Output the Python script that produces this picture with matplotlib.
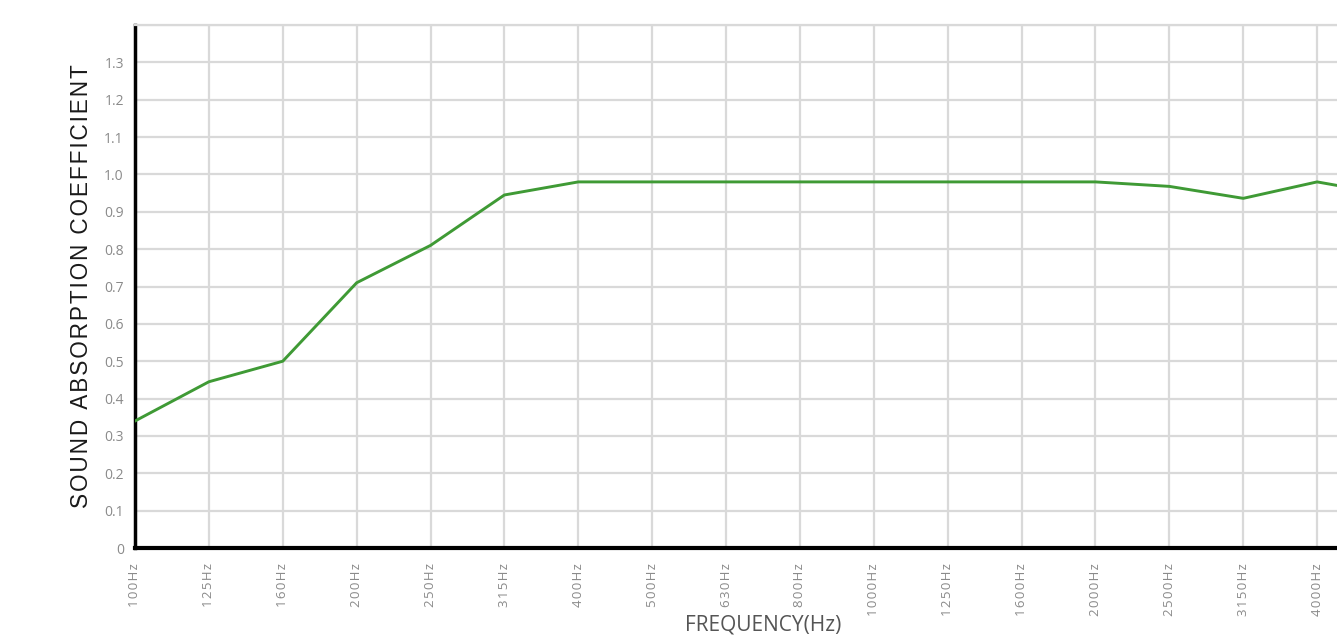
import matplotlib
matplotlib.use("Agg")
import matplotlib.pyplot as plt
import numpy as np

# 1/3 octave bands
bands = ["100Hz", "125Hz", "160Hz", "200Hz", "250Hz", "315Hz", "400Hz", "500Hz",
         "630Hz", "800Hz", "1000Hz", "1250Hz", "1600Hz", "2000Hz", "2500Hz",
         "3150Hz", "4000Hz", "5000Hz"]
alpha = [0.34, 0.445, 0.50, 0.71, 0.81, 0.945, 0.98, 0.98, 0.98, 0.98, 0.98,
         0.98, 0.98, 0.98, 0.968, 0.936, 0.98, 0.945]
yticks = [0, 0.1, 0.2, 0.3, 0.4, 0.5, 0.6, 0.7, 0.8, 0.9, 1.0, 1.1, 1.2, 1.3]
ytick_labels = ["0", "0.1", "0.2", "0.3", "0.4", "0.5", "0.6", "0.7", "0.8",
                "0.9", "1.0", "1.1", "1.2", "1.3"]

hs = "\u200a"  # hair space, for the spaced out lettering


def spaced(s, n=1):
    return (hs * n).join(s)


fig = plt.figure(figsize=(13.37, 6.37), dpi=100)
# axes runs past the right edge of the picture, like the original
ax = fig.add_axes([135 / 1337, 89 / 637, 1256 / 1337, 523 / 637])

x = np.arange(len(bands))
ax.plot(x, alpha, color="#3f9a35", lw=2.1, zorder=3)

ax.set_xlim(0, len(bands) - 1)
ax.set_ylim(0, 1.4)

# last band lies off the picture, so only the visible ones get a label
ax.set_xticks(x[:-1])
ax.set_xticklabels([spaced(b) for b in bands[:-1]], rotation=90, va="top",
                   fontsize=9.5, color="#8a8a8a", family=["Open Sans", "DejaVu Sans"])
ax.set_yticks(np.arange(0.1, 1.41, 0.1), minor=True)
ax.set_yticks(yticks)
ax.set_yticklabels(ytick_labels, fontsize=10, color="#8a8a8a", family="Open Sans")
ax.tick_params(axis="both", which="both", length=0)
ax.tick_params(axis="x", pad=11)
ax.tick_params(axis="y", pad=8)

ax.grid(True, which="both", color="#d9d9d9", lw=1.6, zorder=0)
ax.set_axisbelow(True)

ax.spines["right"].set_visible(False)
ax.spines["top"].set_color("#d9d9d9")
ax.spines["top"].set_linewidth(1.6)
ax.spines["left"].set_color("black")
ax.spines["left"].set_linewidth(2.5)
ax.spines["bottom"].set_color("black")
ax.spines["bottom"].set_linewidth(3)

ax.set_ylabel(spaced("SOUND ABSORPTION COEFFICIENT", 1), fontsize=16.3,
              family=["Liberation Sans", "DejaVu Sans"], color="#1a1a1a", labelpad=8)
fig.text(763 / 1337, 2 / 637, "FREQUENCY(Hz)", fontsize=15, color="#555555",
         family="Open Sans", ha="center", va="bottom")

fig.savefig("out.png", dpi=100)
